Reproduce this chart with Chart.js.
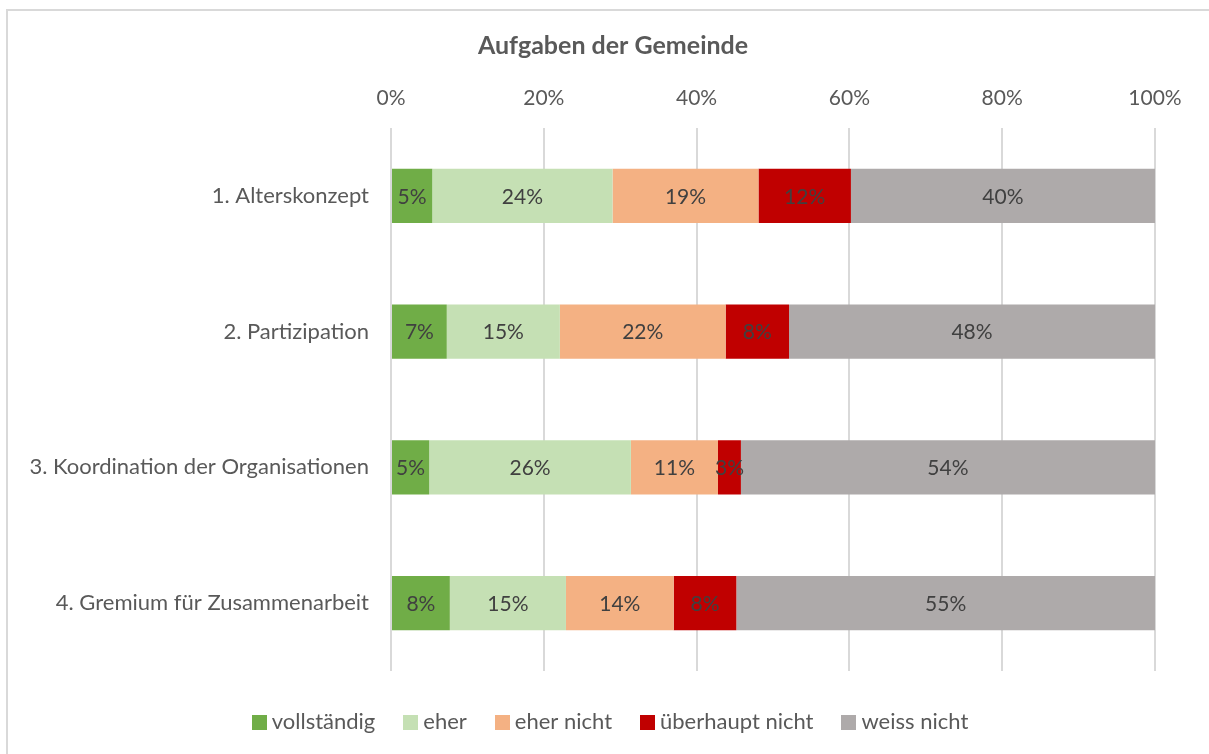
<!DOCTYPE html>
<html>
<head>
<meta charset="utf-8">
<script src="https://cdn.jsdelivr.net/npm/chart.js@4/dist/chart.umd.min.js"></script>
<style>
  html, body { margin: 0; padding: 0; background: #ffffff; }
  #wrap { position: absolute; left: 0; top: 0; width: 1209px; height: 754px; }
</style>
</head>
<body>
<div id="wrap"><canvas id="c" width="1209" height="754"></canvas></div>
<script>
const categories = [
  "1. Alterskonzept",
  "2. Partizipation",
  "3. Koordination der Organisationen",
  "4. Gremium für Zusammenarbeit"
];
const seriesNames = ["vollständig", "eher", "eher nicht", "überhaupt nicht", "weiss nicht"];
const vollstaendig   = [5.4, 7.3, 5.0, 7.7];
const eher           = [23.6, 14.8, 26.4, 15.2];
const eherNicht      = [19.1, 21.7, 11.4, 14.1];
const ueberhauptNicht= [12.1, 8.3, 3.0, 8.2];
const weissNicht     = [39.8, 47.9, 54.2, 54.8];
const tickLabels = ["0%", "20%", "40%", "60%", "80%", "100%"];
const seriesColors = ["#70AD47", "#C5E0B4", "#F4B183", "#C00000", "#AEAAAA"];

const FONT = "Lato, 'Open Sans', sans-serif";
const TEXT = "#595959";

const seriesValues = [vollstaendig, eher, eherNicht, ueberhauptNicht, weissNicht];

function swatch(color) {
  const c = document.createElement('canvas');
  c.width = 15; c.height = 15;
  const g = c.getContext('2d');
  g.fillStyle = color;
  g.fillRect(0, 0, 15, 15);
  return c;
}

const frame = {
  id: 'frame',
  beforeDraw(chart) {
    const ctx = chart.ctx;
    ctx.save();
    ctx.fillStyle = '#ffffff';
    ctx.fillRect(0, 0, chart.width, chart.height);
    ctx.strokeStyle = '#d9d9d9';
    ctx.lineWidth = 2;
    ctx.strokeRect(7, 10, 1400, 1000);
    ctx.restore();
  }
};

const barLabels = {
  id: 'barLabels',
  afterDatasetsDraw(chart) {
    const ctx = chart.ctx;
    ctx.save();
    ctx.font = "21px " + FONT;
    ctx.fillStyle = "#404040";
    ctx.textAlign = "center";
    ctx.textBaseline = "middle";
    chart.data.datasets.forEach((ds, di) => {
      const meta = chart.getDatasetMeta(di);
      meta.data.forEach((el, i) => {
        const v = ds.data[i];
        const cx = (el.x + el.base) / 2;
        ctx.fillText(Math.round(v) + "%", cx, el.y + 1);
      });
    });
    ctx.restore();
  }
};

new Chart(document.getElementById('c'), {
  type: 'bar',
  data: {
    labels: categories,
    datasets: seriesNames.map((n, i) => ({
      label: n,
      data: seriesValues[i],
      backgroundColor: seriesColors[i],
      borderWidth: 0,
      barPercentage: 0.4,
      categoryPercentage: 1.0,
      xAxisID: 'x',
      yAxisID: 'y'
    }))
  },
  options: {
    indexAxis: 'y',
    responsive: false,
    animation: false,
    devicePixelRatio: 1,
    layout: { padding: { top: 10, left: 17, right: 0, bottom: 11 } },
    scales: {
      x: {
        position: 'top',
        stacked: true,
        min: 0, max: 100,
        afterBuildTicks(scale) {
          scale.ticks = tickLabels.map((t, i) => ({ value: i * 20 }));
        },
        ticks: {
          callback: (v, i) => tickLabels[i],
          font: { family: FONT, size: 21 },
          color: TEXT,
          padding: 17,
          maxRotation: 0
        },
        grid: { color: '#d9d9d9', lineWidth: 2, drawTicks: false },
        border: { display: false },
        afterFit(scale) { scale.height = 59; }
      },
      xb: {
        type: 'linear',
        axis: 'x',
        position: 'bottom',
        display: true,
        ticks: { display: false },
        grid: { display: false, drawTicks: false },
        border: { display: false },
        afterFit(scale) { scale.height = 6; }
      },
      y: {
        stacked: true,
        ticks: {
          font: { family: FONT, size: 22 },
          color: TEXT,
          padding: 22
        },
        grid: { display: false, drawTicks: false },
        border: { display: false },
        afterFit(scale) { scale.width = 374; }
      },
      yr: {
        type: 'linear',
        axis: 'y',
        position: 'right',
        display: true,
        ticks: { display: false },
        grid: { display: false, drawTicks: false },
        border: { display: false },
        afterFit(scale) { scale.width = 54; }
      }
    },
    plugins: {
      title: {
        display: true,
        text: 'Aufgaben der Gemeinde',
        font: { family: FONT, size: 25, weight: 'bold' },
        color: TEXT,
        padding: { top: 21, bottom: 8 }
      },
      legend: {
        position: 'bottom',
        labels: {
          font: { family: FONT, size: 22 },
          color: TEXT,
          usePointStyle: true,
          pointStyleWidth: 3,
          boxHeight: 15,
          padding: 34,
          generateLabels(chart) {
            const items = Chart.defaults.plugins.legend.labels.generateLabels(chart);
            items.forEach((it) => { it.pointStyle = swatch(seriesColors[it.datasetIndex]); });
            return items;
          }
        }
      },
      tooltip: { enabled: false }
    }
  },
  plugins: [frame, barLabels]
});
</script>
</body>
</html>
